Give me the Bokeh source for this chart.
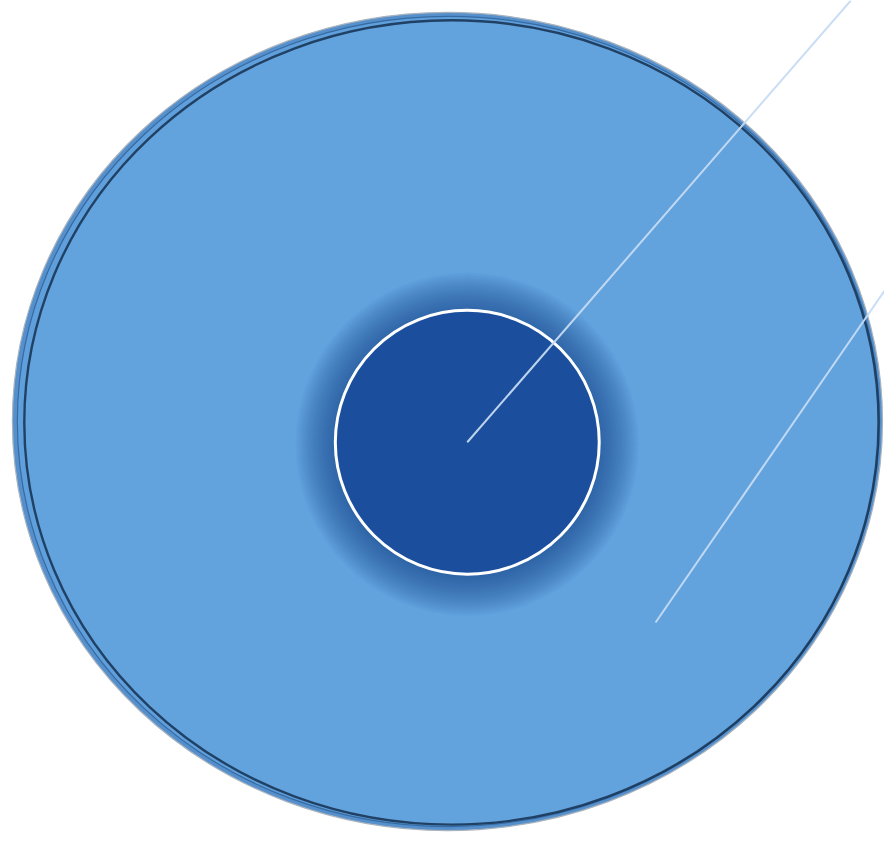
import numpy as np
from bokeh.plotting import figure
from bokeh.models import Range1d
from bokeh.embed import file_html
from bokeh.resources import INLINE

# ---- data ----
categories = ["Total", "Subset"]
values = [100.0, 9.2]           # bubble sizes (area)
centers_x = [451.0, 471.0]      # chart coordinates of the bubbles
centers_y = [425.0, 446.0]
leader_from_x = [471.0, 661.0]  # label leader lines
leader_from_y = [446.0, 628.0]
leader_to_x = [858.0, 892.0]
leader_to_y = [0.0, 293.0]

# ---- geometry derived from values ----
R_X, R_Y = 439.0, 413.0
rx = [R_X * np.sqrt(v / values[0]) for v in values]
ry = [R_Y * np.sqrt(values[0] / values[0]), R_X * np.sqrt(values[1] / values[0])]

W, H = 884, 834
p = figure(width=W, height=H, output_backend="svg", toolbar_location=None,
           x_range=Range1d(0, 892), y_range=Range1d(842, 0),
           min_border=0, background_fill_color="white", border_fill_color="white")
p.axis.visible = False
p.grid.visible = False
p.outline_line_color = None

# outer bubble: bevel band
p.ellipse(x=[centers_x[0]], y=[centers_y[0]], width=[2 * rx[0]], height=[2 * ry[0]],
          fill_color="#5690cc", line_color="#a9b3bd", line_width=1.2)
p.ellipse(x=[centers_x[0] + 1], y=[centers_y[0]], width=[2 * rx[0] - 8], height=[2 * ry[0] - 8],
          fill_color="#5f9fdc", line_color="#2d5f96", line_width=1.2, line_alpha=0.8)
# dark rim line (offset to the right)
p.ellipse(x=[centers_x[0] + 4], y=[centers_y[0] + 1], width=[2 * rx[0] - 16], height=[2 * ry[0] - 14],
          fill_color="#62a3de", line_color="#15304f", line_width=2.4, line_alpha=0.85)

# soft shadow around inner bubble
for k in range(22):
    r = rx[1] + 40 - k * 2
    p.ellipse(x=[centers_x[1]], y=[centers_y[1] + 2], width=[2 * r], height=[2 * r],
              fill_color="#1d4a80", fill_alpha=0.045, line_color=None)

# inner bubble
p.ellipse(x=[centers_x[1]], y=[centers_y[1]], width=[2 * rx[1]], height=[2 * rx[1]],
          fill_color="#1b4f9d", line_color="white", line_width=3)

# leader lines
p.segment(x0=leader_from_x, y0=leader_from_y, x1=leader_to_x, y1=leader_to_y,
          line_color="#c6dbf3", line_width=2, line_alpha=0.95)

open("out.html", "w").write(file_html(p, INLINE))
